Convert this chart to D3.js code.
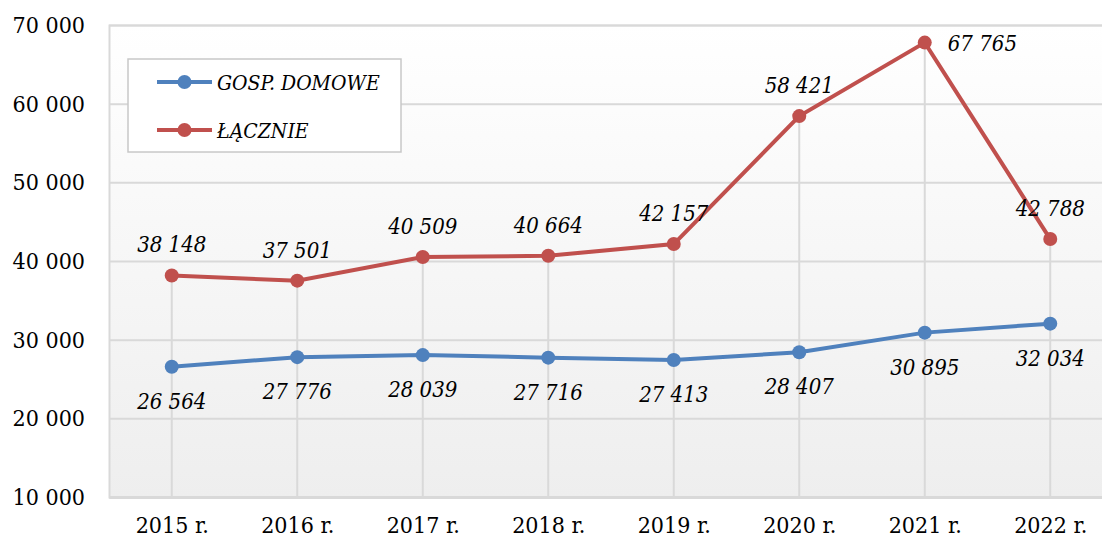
<!DOCTYPE html>
<html>
<head>
<meta charset="utf-8">
<script src="https://cdn.jsdelivr.net/npm/d3@7"></script>
<style>
    body { margin: 0; background: #fff; }
    text { font-family: "DejaVu Serif Condensed", "DejaVu Serif", serif; fill: #000; }
</style>
</head>
<body>
<div id="chart"></div>
<script>
// Data
var years = ["2015 r.", "2016 r.", "2017 r.", "2018 r.", "2019 r.", "2020 r.", "2021 r.", "2022 r."];
var gospDomowe = [26564, 27776, 28039, 27716, 27413, 28407, 30895, 32034];
var lacznie = [38148, 37501, 40509, 40664, 42157, 58421, 67765, 42788];
var yTicks = [10000, 20000, 30000, 40000, 50000, 60000, 70000];
var seriesNames = ["GOSP. DOMOWE", "ŁĄCZNIE"];

// Where each total label sits relative to its point
var lacznieLabelSide = ["above", "above", "above", "above", "above", "above", "right", "above"];

LineChart = function(_parentElement) {
    this.parentElement = _parentElement;
    this.initVis();
};

LineChart.prototype.initVis = function() {
    var vis = this;

    vis.width = 1102;
    vis.height = 539;
    vis.plot = {left: 109, top: 25, right: 1113, bottom: 497};

    vis.svg = d3.select("#" + vis.parentElement).append("svg")
        .attr("width", vis.width)
        .attr("height", vis.height);

    // Background gradient of the plot area
    var grad = vis.svg.append("defs").append("linearGradient")
        .attr("id", "bg")
        .attr("x1", 0).attr("y1", 0).attr("x2", 0).attr("y2", 1);
    grad.append("stop").attr("offset", "0%").attr("stop-color", "#ffffff");
    grad.append("stop").attr("offset", "100%").attr("stop-color", "#eeeeee");

    vis.x = d3.scalePoint()
        .domain(years)
        .range([vis.plot.left, vis.plot.right])
        .padding(0.5);

    vis.y = d3.scaleLinear()
        .domain([10000, 70000])
        .range([vis.plot.bottom, vis.plot.top]);

    vis.fmt = function(v) { return d3.format(",")(v).replace(/,/g, " "); };

    vis.svg.append("rect")
        .attr("x", vis.plot.left)
        .attr("y", vis.plot.top)
        .attr("width", vis.plot.right - vis.plot.left)
        .attr("height", vis.plot.bottom - vis.plot.top)
        .attr("fill", "url(#bg)");

    vis.drawAxes();
    vis.drawSeries();
    vis.drawLegend();
};

LineChart.prototype.drawAxes = function() {
    var vis = this;

    // Horizontal gridlines
    var yAxis = d3.axisLeft(vis.y)
        .tickValues(yTicks)
        .tickSize(-(vis.plot.right - vis.plot.left))
        .tickPadding(24)
        .tickFormat(vis.fmt);

    var gy = vis.svg.append("g")
        .attr("transform", "translate(" + vis.plot.left + ",0)")
        .call(yAxis);
    gy.select(".domain").attr("stroke", "#d9d9d9").attr("stroke-width", 2);
    gy.selectAll(".tick line").attr("stroke", "#d9d9d9").attr("stroke-width", 2);
    gy.selectAll(".tick text")
        .attr("font-size", 23)
        .attr("font-family", "DejaVu Serif Condensed");

    // Drop lines from the upper series down to the axis
    vis.svg.selectAll(".drop")
        .data(lacznie)
        .enter().append("line")
        .attr("class", "drop")
        .attr("x1", function(d, i) { return vis.x(years[i]); })
        .attr("x2", function(d, i) { return vis.x(years[i]); })
        .attr("y1", function(d) { return vis.y(d); })
        .attr("y2", vis.plot.bottom)
        .attr("stroke", "#d9d9d9")
        .attr("stroke-width", 2);

    var xAxis = d3.axisBottom(vis.x).tickSize(0).tickPadding(20);
    var gx = vis.svg.append("g")
        .attr("transform", "translate(0," + vis.plot.bottom + ")")
        .call(xAxis);
    gx.select(".domain").attr("stroke", "#d9d9d9").attr("stroke-width", 3);
    gx.selectAll(".tick text")
        .attr("font-size", 23)
        .attr("font-family", "DejaVu Serif Condensed");
};

LineChart.prototype.drawSeries = function() {
    var vis = this;

    var series = [
        {values: gospDomowe, color: "#4f81bd", labelDy: 34},
        {values: lacznie, color: "#c0504d", labelDy: -31}
    ];

    var line = d3.line()
        .x(function(d, i) { return vis.x(years[i]); })
        .y(function(d) { return vis.y(d); });

    series.forEach(function(s, k) {
        vis.svg.append("path")
            .datum(s.values)
            .attr("d", line)
            .attr("fill", "none")
            .attr("stroke", s.color)
            .attr("stroke-width", 4);

        vis.svg.selectAll(".dot" + k)
            .data(s.values)
            .enter().append("circle")
            .attr("class", "dot" + k)
            .attr("cx", function(d, i) { return vis.x(years[i]); })
            .attr("cy", function(d) { return vis.y(d); })
            .attr("r", 7)
            .attr("fill", s.color);

        vis.svg.selectAll(".lab" + k)
            .data(s.values)
            .enter().append("text")
            .attr("class", "lab" + k)
            .attr("x", function(d, i) {
                if (k == 1 && lacznieLabelSide[i] == "right") return vis.x(years[i]) + 23;
                return vis.x(years[i]);
            })
            .attr("y", function(d, i) {
                if (k == 1 && lacznieLabelSide[i] == "right") return vis.y(d);
                return vis.y(d) + s.labelDy;
            })
            .attr("dy", "0.36em")
            .attr("text-anchor", function(d, i) {
                return (k == 1 && lacznieLabelSide[i] == "right") ? "start" : "middle";
            })
            .attr("font-size", 22)
            .attr("font-style", "italic")
            .text(function(d) { return vis.fmt(d); });
    });
};

LineChart.prototype.drawLegend = function() {
    var vis = this;
    var colors = ["#4f81bd", "#c0504d"];

    var g = vis.svg.append("g").attr("transform", "translate(128,59)");
    g.append("rect")
        .attr("width", 273)
        .attr("height", 93)
        .attr("fill", "#fff")
        .attr("stroke", "#c8c8c8")
        .attr("stroke-width", 1.5);

    for (var i = 0; i < seriesNames.length; i++) {
        var yy = 23 + i * 48;
        g.append("line")
            .attr("x1", 29).attr("x2", 84)
            .attr("y1", yy).attr("y2", yy)
            .attr("stroke", colors[i])
            .attr("stroke-width", 4);
        g.append("circle")
            .attr("cx", 56.5).attr("cy", yy)
            .attr("r", 7)
            .attr("fill", colors[i]);
        g.append("text")
            .attr("x", 89)
            .attr("y", yy)
            .attr("dy", "0.36em")
            .attr("font-size", 21)
            .attr("font-style", "italic")
            .text(seriesNames[i]);
    }
};

var chart = new LineChart("chart");
</script>
</body>
</html>
